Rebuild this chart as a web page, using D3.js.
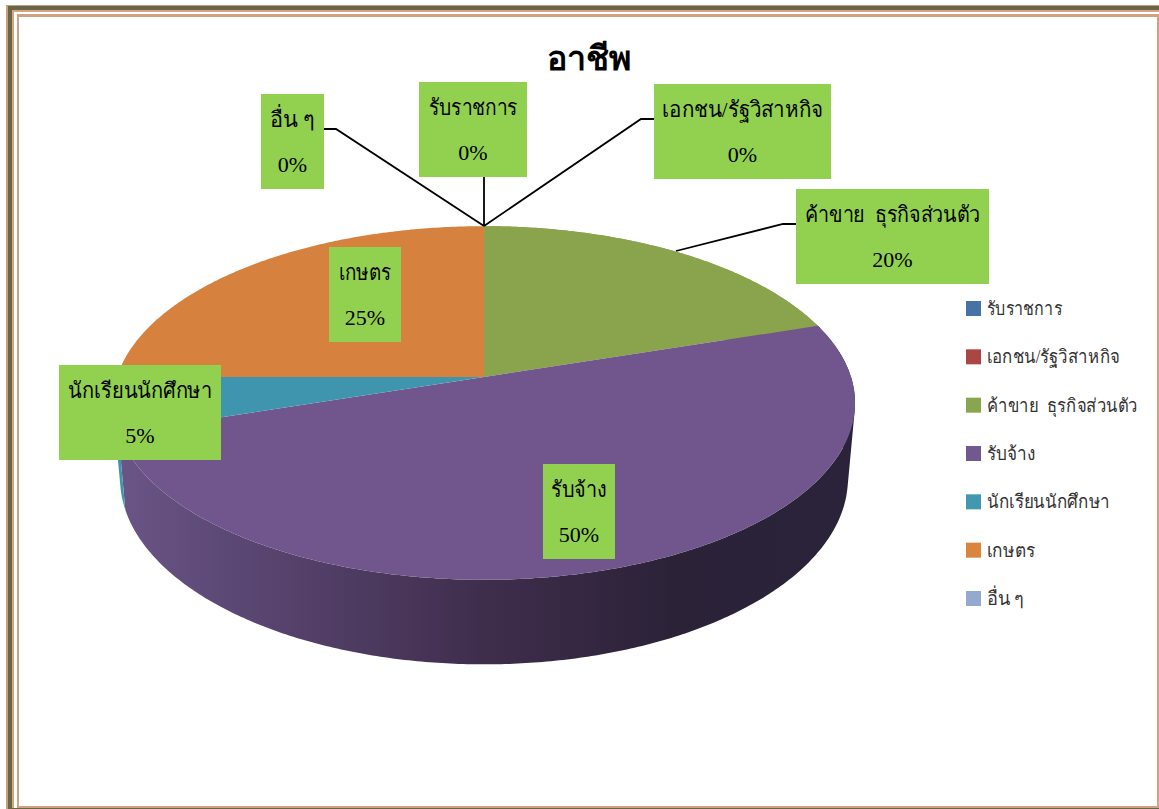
<!DOCTYPE html>
<html><head><meta charset="utf-8">
<script src="https://cdn.jsdelivr.net/npm/d3@7"></script>
<style>html,body{margin:0;padding:0;background:#fff;overflow:hidden}svg{display:block}</style>
</head><body><div id="c"></div>
<script>
const title = "อาชีพ";
const categories = ["รับราชการ","เอกชน/รัฐวิสาหกิจ","ค้าขาย  ธุรกิจส่วนตัว","รับจ้าง","นักเรียนนักศึกษา","เกษตร","อื่น ๆ"];
const values = [0,0,20,50,5,25,0];
const faceColors = ["#4572a7","#aa4643","#8aa34d","#70568c","#3f95ae","#d6813d","#93a9cf"];
const legendColors = ["#4572a7","#aa4643","#89a54e","#71588f","#4198af","#db843d","#93a9cf"];

const W=1159,H=809;
const svg=d3.select("#c").append("svg").attr("width",W).attr("height",H);
const serif='"Liberation Serif","Noto Sans CJK SC",serif';

// frame
const frame=[[6,5,1153,804,"#c9a07e"],[8,6,1151,803,"#6b6548"],[12,10,1147,798,"#d3a582"],[14,12,1145,796,"#fff"],[17,14,1143,794,"#cfa283"],[19,17,1138,789,"#fff"]];
svg.selectAll("rect.f").data(frame).join("rect").attr("class","f")
 .attr("x",d=>d[0]).attr("y",d=>d[1]).attr("width",d=>d[2]).attr("height",d=>d[3]).attr("fill",d=>d[4]);

// projection of the tilted disc
const p=0.147;
const sx=d3.scaleLinear().domain([-1,1]).range([484-367,484+367]);
const sy=d3.scaleLinear().domain([-1,1]).range([377+173,377-173]);
const sxB=d3.scaleLinear().domain([-1,1]).range([484-360,484+360]);
const syB=d3.scaleLinear().domain([-1,1]).range([451+182,451-182]);
function rim(a,X,Y){const u=Math.sin(a),v=Math.cos(a),s=1/(1+p*v);return [X(u*s),Y(v*s)];}
const top_=a=>rim(a,sx,sy), bot=a=>rim(a,sxB,syB);

const arcs=d3.pie().sort(null).value(d=>d)(values);
const defs=svg.append("defs");
const g=defs.append("linearGradient").attr("id","side").attr("gradientUnits","userSpaceOnUse")
  .attr("x1",117).attr("x2",856).attr("y1",0).attr("y2",0);
[[0,"#6a5587"],[0.2,"#58446f"],[0.5,"#3f2d4c"],[0.75,"#2b2238"],[1,"#2a2339"]].forEach(s=>g.append("stop").attr("offset",s[0]).attr("stop-color",s[1]));
const sideFill=i=>i===3?"url(#side)":faceColors[i];

const samples=(a0,a1)=>{const n=Math.max(1,Math.ceil((a1-a0)/0.01));return d3.range(n+1).map(i=>a0+(a1-a0)*i/n);};

// sides: every quad is wound the same way so overlaps never cancel
svg.append("g").selectAll("path").data(arcs.filter(d=>d.endAngle>d.startAngle&&d.startAngle<Math.PI*1.5)).join("path")
 .attr("fill",d=>sideFill(d.index))
 .attr("d",d=>{const s=samples(d.startAngle,Math.min(d.endAngle,Math.PI*1.5));
   const path=d3.path();
   for(let i=0;i<s.length-1;i++){
     let q=[top_(s[i]),top_(s[i+1]),bot(s[i+1]),bot(s[i])];
     if(d3.polygonArea(q)<0)q=q.reverse();
     path.moveTo(...q[0]);q.slice(1).forEach(c=>path.lineTo(...c));path.closePath();}
   return path.toString();});
// top
svg.append("g").selectAll("path").data(arcs.filter(d=>d.endAngle>d.startAngle)).join("path")
 .attr("fill",d=>faceColors[d.index])
 .attr("d",d=>{const pts=samples(d.startAngle,d.endAngle).map(top_);
   return "M"+sx(0)+","+sy(0)+"L"+pts.map(q=>q.join(",")).join("L")+"Z";});

// leaders
const leaders=[[[324,129],[336,129],[484,226]],[[484,177],[484,226]],[[654,119],[641,119],[484,226]],[[796,224],[783,224],[676,251]]];
svg.append("g").selectAll("path").data(leaders).join("path")
 .attr("d",d3.line()).attr("fill","none").attr("stroke","#000").attr("stroke-width",1.8);

// labels
const boxes=[[419,82,108,95],[654,84,177,95],[796,189,193,95],[543,464,72,95],[59,365,162,95],[329,247,72,95],[261,94,63,95]];
const labelWidths=[89,161,175,56,144,53,45];
const lab=svg.append("g").selectAll("g").data(categories).join("g");
lab.append("rect").attr("x",(d,i)=>boxes[i][0]).attr("y",(d,i)=>boxes[i][1]).attr("width",(d,i)=>boxes[i][2]).attr("height",(d,i)=>boxes[i][3]).attr("fill","#92d050");
lab.append("text").attr("x",(d,i)=>boxes[i][0]+boxes[i][2]/2).attr("y",(d,i)=>boxes[i][1]+33)
 .attr("text-anchor","middle").attr("font-family",serif).attr("font-size",22).attr("fill","#000").style("white-space","pre")
 .attr("textLength",(d,i)=>labelWidths[i]).attr("lengthAdjust","spacingAndGlyphs").text(d=>d);
lab.append("text").attr("x",(d,i)=>boxes[i][0]+boxes[i][2]/2).attr("y",(d,i)=>boxes[i][1]+78)
 .attr("text-anchor","middle").attr("font-family",serif).attr("font-size",22).attr("fill","#000").text((d,i)=>values[i]+"%");

// title
svg.append("text").attr("x",589).attr("y",70).attr("text-anchor","middle").attr("font-family",serif).attr("font-weight","bold").attr("font-size",34).attr("fill","#000").text(title);

// legend
const legendWidths=[75,133,151,48,123,48,37];
const ly=d3.scalePoint().domain(categories).range([309,599]);
const leg=svg.append("g").selectAll("g").data(categories).join("g");
leg.append("rect").attr("x",966).attr("y",d=>ly(d)-8).attr("width",15).attr("height",15).attr("fill",(d,i)=>legendColors[i]);
leg.append("text").attr("x",987).attr("y",d=>ly(d)+6).attr("font-family",serif).attr("font-size",19).attr("fill","#333").style("white-space","pre")
 .attr("textLength",(d,i)=>legendWidths[i]).attr("lengthAdjust","spacingAndGlyphs").text(d=>d);
</script></body></html>
